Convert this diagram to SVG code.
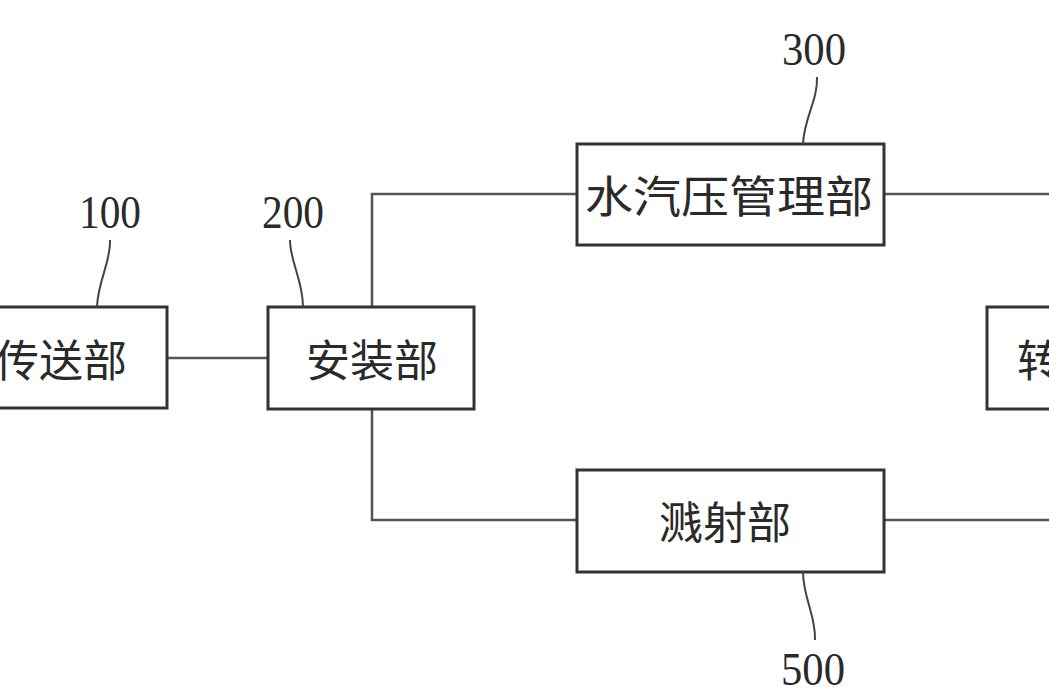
<svg xmlns="http://www.w3.org/2000/svg" width="1049" height="700" viewBox="0 0 1049 700">
<style>
.box{fill:#fff;stroke:#333;stroke-width:3}
.lbl{font-family:"Noto Sans CJK SC","Noto Sans CJK JP",sans-serif;font-size:44px;fill:#2a2a2a;text-anchor:middle;dominant-baseline:central}
.num{font-family:"Liberation Serif",serif;font-size:46px;fill:#2a2a2a;text-anchor:middle}
.lead{fill:none;stroke:#444;stroke-width:2}
.conn{fill:none;stroke:#555;stroke-width:2.5}
</style>
<rect width="1049" height="700" fill="#fff"/>
<g id="connectors">
<line class="conn" x1="167" y1="358" x2="268" y2="358"/>
<polyline class="conn" points="372,307 372,194 577,194"/>
<polyline class="conn" points="372,409 372,520 577,520"/>
<line class="conn" x1="884" y1="194" x2="1049" y2="194"/>
<line class="conn" x1="884" y1="520" x2="1049" y2="520"/>
</g>
<g id="node100">
<rect class="box" x="-45" y="307" width="212" height="101"/>
<text class="lbl" x="61" y="358">传送部</text>
<text class="num" x="110" y="228" textLength="62" lengthAdjust="spacingAndGlyphs">100</text>
<path class="lead" d="M110,240 C111,262 98,280 97,307"/>
</g>
<g id="node200">
<rect class="box" x="268" y="307" width="206" height="102"/>
<text class="lbl" x="372" y="358">安装部</text>
<text class="num" x="293" y="228" textLength="62" lengthAdjust="spacingAndGlyphs">200</text>
<path class="lead" d="M290,240 C290,262 303,280 303,307"/>
</g>
<g id="node300">
<rect class="box" x="577" y="144" width="307" height="101"/>
<text class="lbl" x="729" y="194" textLength="288" lengthAdjust="spacingAndGlyphs">水汽压管理部</text>
<text class="num" x="814" y="65" textLength="64" lengthAdjust="spacingAndGlyphs">300</text>
<path class="lead" d="M817,77 C818,100 804,118 803,144"/>
</g>
<g id="node500">
<rect class="box" x="577" y="470" width="307" height="102"/>
<text class="lbl" x="725" y="520">溅射部</text>
<text class="num" x="813" y="685" textLength="64" lengthAdjust="spacingAndGlyphs">500</text>
<path class="lead" d="M803,572 C803,598 816,615 815,640"/>
</g>
<g id="node400">
<rect class="box" x="987" y="307" width="120" height="102"/>
<text class="lbl" x="1017" y="358" style="text-anchor:start">转</text>
</g>
</svg>
